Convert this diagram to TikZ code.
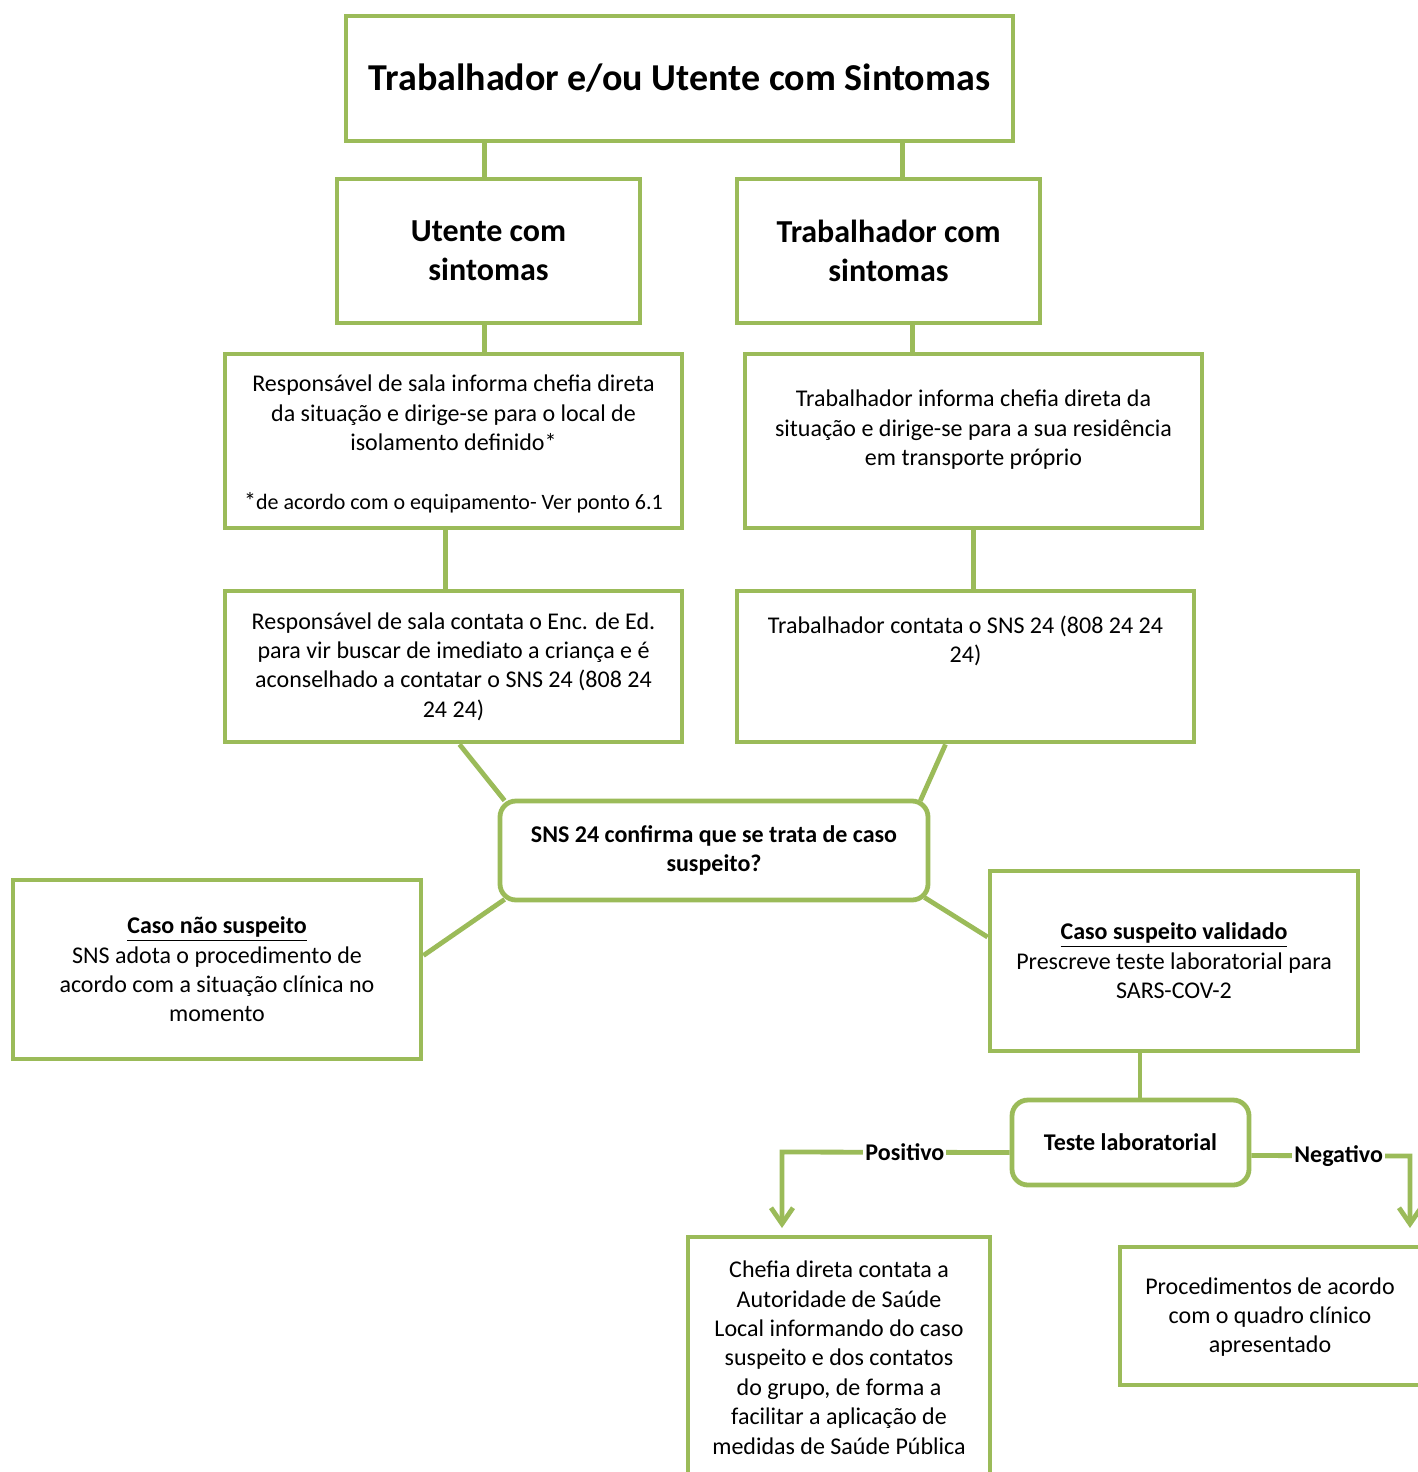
\documentclass[tikz,border=0pt]{standalone}
\usepackage{fontspec}
\setmainfont{Carlito}
\usetikzlibrary{arrows.meta,positioning}
\definecolor{sgreen}{RGB}{155,187,89}
\newcommand{\txtsize}{\fontsize{12}{14.7}\selectfont}
\newcommand{\headsize}{\fontsize{16}{19.5}\selectfont\bfseries}

\begin{document}
\begin{tikzpicture}[x=0.5pt,y=-0.5pt,
    box/.style={draw=sgreen,line width=2.4pt,inner sep=0pt,align=center,font=\txtsize},
    rbox/.style={box,rounded corners=8pt,font=\txtsize\bfseries},
    txt/.style={align=center,font=\txtsize,inner sep=0pt},
    conn/.style={draw=sgreen,line width=2.4pt},
    arr/.style={conn,-{Straight Barb[length=8pt,width=11pt]}},
    lab/.style={font=\txtsize\bfseries,fill=white,inner sep=1pt}]
    \useasboundingbox (0,0) rectangle (1418,1472);
    \clip (0,0) rectangle (1418,1472);

    \node[box,minimum width=333.5pt,minimum height=62.5pt,font=\fontsize{19}{22}\selectfont\bfseries] (title) at (679.5,78.5) {Trabalhador e/ou Utente com Sintomas};
    \node[box,minimum width=151.5pt,minimum height=72pt,font=\headsize] (utente) at (488.5,251) {Utente com\\sintomas};
    \node[box,minimum width=151.5pt,minimum height=72pt,font=\headsize] (trab) at (888.5,251) {Trabalhador com\\sintomas};

    \node[box,minimum width=228.5pt,minimum height=87pt] (lisol) at (453.5,441) {};
    \node[txt,below=11.5pt of lisol.north] (lisoltxt) {Responsável de sala informa chefia direta\\da situação e dirige-se para o local de\\isolamento definido*\\[14.7pt]{\fontsize{11}{14}\selectfont{\fontsize{12}{14}\selectfont*}de acordo com o equipamento- Ver ponto 6.1}};
    \node[box,minimum width=228.5pt,minimum height=87pt] (rcasa) at (973.5,441) {};
    \node[txt,below=19pt of rcasa.north] (rcasatxt) {Trabalhador informa chefia direta da\\situação e dirige-se para a sua residência\\em transporte próprio};

    \node[box,minimum width=228.5pt,minimum height=75.5pt] (lsns) at (453.5,666.5) {Responsável de sala contata o Enc. de Ed.\\para vir buscar de imediato a criança e é\\aconselhado a contatar o SNS 24 (808 24\\24 24)};
    \node[box,minimum width=228.5pt,minimum height=75.5pt] (rsns) at (965.5,666.5) {};
    \node[txt,below=13.5pt of rsns.north] (rsnstxt) {Trabalhador contata o SNS 24 (808 24 24\\24)};

    \node[rbox,minimum width=214pt,minimum height=49.5pt] (sns) at (714,850.5) {SNS 24 confirma que se trata de caso\\suspeito?};
    \node[box,minimum width=204pt,minimum height=89.5pt] (naosusp) at (217,969.5) {\textbf{\underline{Caso não suspeito}}\\SNS adota o procedimento de\\acordo com a situação clínica no\\momento};
    \node[box,minimum width=184pt,minimum height=90pt] (susp) at (1174,961) {\textbf{\underline{Caso suspeito validado}}\\Prescreve teste laboratorial para\\SARS-COV-2};
    \node[rbox,minimum width=118.5pt,minimum height=42.5pt] (teste) at (1130.5,1142.5) {Teste laboratorial};

    \node[box,minimum width=151pt,minimum height=131.5pt] (chefia) at (839,1368.5) {};
    \node[txt,below=13pt of chefia.north] (chefiatxt) {Chefia direta contata a\\Autoridade de Saúde\\Local informando do caso\\suspeito e dos contatos\\do grupo, de forma a\\facilitar a aplicação de\\medidas de Saúde Pública};
    \node[box,minimum width=160pt,minimum height=69pt] (proc) at (1280,1316) {};
    \node[txt] (proctxt) at (1270,1317) {Procedimentos de acordo\\com o quadro clínico\\apresentado};

    \draw[conn] ([xshift=-2pt]utente.north) -- ([xshift=-2pt]utente.north |- title.south);
    \draw[conn] ([xshift=7pt]trab.north) -- ([xshift=7pt]trab.north |- title.south);
    \draw[conn] ([xshift=-2pt]utente.south) -- ([xshift=-2pt]utente.south |- lisol.north);
    \draw[conn] ([xshift=12pt]trab.south) -- ([xshift=12pt]trab.south |- rcasa.north);
    \draw[conn] ([xshift=-4pt]lisol.south) -- ([xshift=-4pt]lisol.south |- lsns.north);
    \draw[conn] (rcasa.south) -- (rcasa.south |- rsns.north);

    \draw[conn] ([xshift=3pt]lsns.south) -- ([xshift=3.5pt,yshift=-1pt]sns.north west);
    \draw[conn] ([xshift=-10pt]rsns.south) -- ([xshift=-5pt,yshift=-1pt]sns.north east);
    \draw[conn] ([xshift=3.5pt,yshift=1.5pt]sns.south west) -- ([yshift=7pt]naosusp.east);
    \draw[conn] ([xshift=-3pt,yshift=2.5pt]sns.south east) -- ([yshift=12pt]susp.west);
    \draw[conn] ([xshift=-17pt]susp.south) -- ([xshift=-17pt]susp.south |- teste.north);

    \coordinate (poscorner) at (782,1152);
    \coordinate (postip) at (782,1228);
    \coordinate (negcorner) at (1410,1156);
    \coordinate (negtip) at (1410,1228);
    \draw[arr] ([yshift=-5pt]teste.west) -- node[lab,pos=0.46] {Positivo} (poscorner) -- (postip);
    \draw[arr] ([yshift=-6.5pt]teste.east) -- node[lab,pos=0.55] {Negativo} (negcorner) -- (negtip);
\end{tikzpicture}
\end{document}
